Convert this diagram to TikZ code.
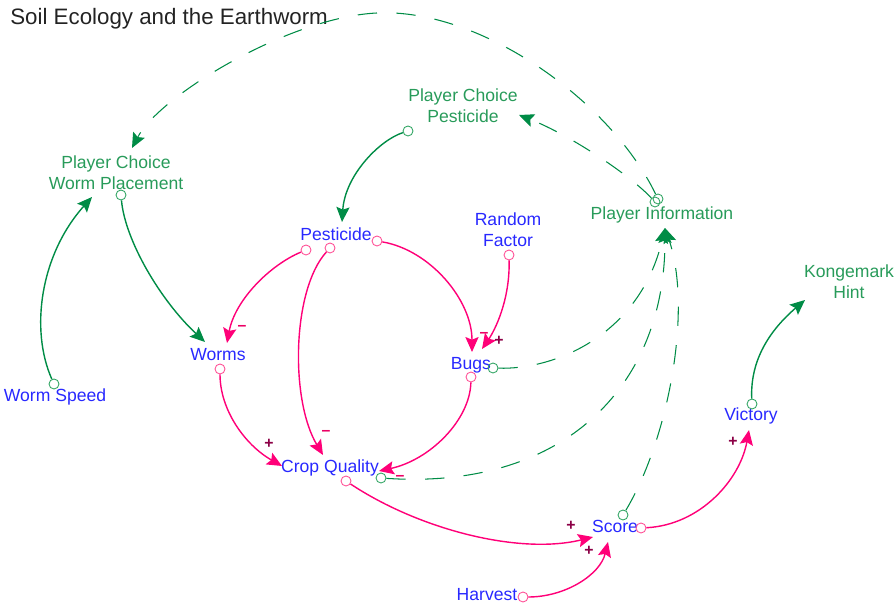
\documentclass[tikz,border=0pt]{standalone}
\usepackage{fontspec}
\setmainfont{Liberation Sans}
\usetikzlibrary{arrows.meta}

\definecolor{linkpink}{RGB}{255,0,120}
\definecolor{ringpink}{RGB}{255,80,150}
\definecolor{linkgreen}{RGB}{0,140,70}
\definecolor{ringgreen}{RGB}{50,165,100}
\definecolor{txtgreen}{RGB}{40,155,90}
\definecolor{txtblue}{RGB}{40,40,255}
\definecolor{plusmark}{RGB}{140,0,70}
\definecolor{minusmark}{RGB}{235,0,100}
\definecolor{titlegray}{RGB}{35,35,35}

\tikzset{
  lbl/.style={inner sep=0pt, font=\fontsize{10}{12}\selectfont, align=center},
  stock/.style={lbl, text=txtblue},
  choice/.style={lbl, text=txtgreen},
  ringp/.style={circle, draw=ringpink, line width=0.5pt, minimum size=0.2cm, inner sep=0pt},
  ringg/.style={circle, draw=ringgreen, line width=0.5pt, minimum size=0.2cm, inner sep=0pt},
  headtip/.style={-{Stealth[length=8.5pt,width=7.5pt,inset=1.5pt]}},
  plink/.style={headtip, draw=linkpink, line width=0.8pt},
  glink/.style={headtip, draw=linkgreen, line width=0.8pt},
  dlink/.style={headtip, draw=linkgreen, line width=0.6pt, dash pattern=on 11pt off 11pt},
  plus/.style={text=plusmark, inner sep=0pt, font=\bfseries\fontsize{9}{9}\selectfont},
  minus/.style={text=minusmark, inner sep=0pt, font=\bfseries\fontsize{9}{9}\selectfont},
}

\begin{document}
\begin{tikzpicture}[x=0.02cm, y=-0.02cm]
\useasboundingbox (0,0) rectangle (896,607);

% ---- title ----
\node[anchor=base west, inner sep=0pt, text=titlegray, font=\fontsize{12.7}{15}\selectfont] (title) at (10,25) {Soil Ecology and the Earthworm};

% ---- variables ----
\node[choice] (pcwp) at (116,173) {Player Choice\\Worm Placement};
\node[choice] (pcp) at (463,106) {Player Choice\\Pesticide};
\node[choice, anchor=base] (pinfo) at (662,220) {Player Information};
\node[choice] (khint) at (849,282) {Kongemark\\Hint};
\node[stock, anchor=base] (pest) at (336,241) {Pesticide};
\node[stock] (rfac) at (508,230) {Random\\Factor};
\node[stock, anchor=base] (worms) at (218,361) {Worms};
\node[stock, anchor=base] (bugs) at (471,370) {Bugs};
\node[stock, anchor=base] (wspeed) at (55,402) {Worm Speed};
\node[stock, anchor=base] (crop) at (330,473) {Crop Quality};
\node[stock, anchor=base] (score) at (615,533) {Score};
\node[stock, anchor=base] (victory) at (751,421) {Victory};
\node[stock, anchor=base] (harvest) at (487,601) {Harvest};

% ---- link origins ----
\node[ringg] (o-ws) at (54,384) {};
\node[ringg] (o-pcwp) at (121,195) {};
\node[ringg] (o-pcp) at (408,131) {};
\node[ringg] (o-vic) at (752,404) {};
\node[ringg] (o-bugs-g) at (493,368) {};
\node[ringg] (o-crop-g) at (381,478) {};
\node[ringg] (o-score-g) at (623,515) {};
\node[ringg] (o-pi-a) at (655,202) {};
\node[ringg] (o-pi-b) at (658,199) {};
\node[ringp] (o-pest-a) at (306,250) {};
\node[ringp] (o-pest-b) at (330,248) {};
\node[ringp] (o-pest-c) at (377,241) {};
\node[ringp] (o-rf) at (509,255) {};
\node[ringp] (o-worms) at (220,369) {};
\node[ringp] (o-bugs) at (471,377) {};
\node[ringp] (o-crop) at (346,481) {};
\node[ringp] (o-harv) at (523,597) {};
\node[ringp] (o-score) at (641,528) {};

% ---- link ends ----
\coordinate (in-pcwp) at (92,197);
\coordinate (in-pcwp-d) at (132,148);
\coordinate (in-worms-g) at (205,342);
\coordinate (in-worms-p) at (227,343);
\coordinate (in-pest) at (342,222);
\coordinate (in-pcp) at (519,115);
\coordinate (in-bugs-a) at (472,352);
\coordinate (in-bugs-b) at (482,349);
\coordinate (in-crop-a) at (323,455);
\coordinate (in-crop-b) at (282,466);
\coordinate (in-crop-c) at (379,471);
\coordinate (in-score-a) at (593,537);
\coordinate (in-score-b) at (608,542);
\coordinate (in-vic) at (749,430);
\coordinate (in-kh) at (805,300);
\coordinate (in-pi) at (665,228);
\coordinate (arc-top) at (377,13);

% ---- green solid links ----
\draw[glink] (o-ws) .. controls (30,330) and (40,255) .. (in-pcwp);
\draw[glink] (o-pcwp) .. controls (125,240) and (160,300) .. (in-worms-g);
\draw[glink] (o-pcp) .. controls (380,140) and (345,175) .. (in-pest);
\draw[glink] (o-vic) .. controls (750,360) and (770,330) .. (in-kh);

% ---- pink links ----
\draw[plink] (o-pest-a) .. controls (270,265) and (235,300) .. (in-worms-p);
\draw[plink] (o-pest-b) .. controls (292,290) and (290,400) .. (in-crop-a);
\draw[plink] (o-pest-c) .. controls (430,250) and (472,300) .. (in-bugs-a);
\draw[plink] (o-rf) .. controls (510,300) and (495,330) .. (in-bugs-b);
\draw[plink] (o-worms) .. controls (220,410) and (245,445) .. (in-crop-b);
\draw[plink] (o-bugs) .. controls (470,420) and (430,460) .. (in-crop-c);
\draw[plink] (o-crop) .. controls (420,530) and (520,555) .. (in-score-a);
\draw[plink] (o-harv) .. controls (565,597) and (600,575) .. (in-score-b);
\draw[plink] (o-score) .. controls (700,525) and (740,480) .. (in-vic);

% ---- information links ----
\draw[dlink] (o-bugs-g) .. controls (555,370) and (640,335) .. (in-pi);
\draw[dlink] (o-crop-g) .. controls (560,490) and (665,390) .. (in-pi);
\draw[dlink] (o-score-g) .. controls (668,440) and (693,310) .. (in-pi);
\draw[dlink] (o-pi-a) .. controls (630,175) and (570,135) .. (in-pcp);
\draw[dlink] (o-pi-b) .. controls (610,100) and (480,8) .. (arc-top)
  .. controls (290,17) and (160,95) .. (in-pcwp-d);

% ---- polarities ----
\node[minus] (m1) at (242,328) {–};
\node[minus] (m2) at (326,433) {–};
\node[minus] (m3) at (484,335) {–};
\node[minus] (m4) at (400,478) {–};
\node[plus] (p1) at (499,341) {+};
\node[plus] (p2) at (269,444) {+};
\node[plus] (p3) at (571,526) {+};
\node[plus] (p4) at (589,551) {+};
\node[plus] (p5) at (733,442) {+};
\end{tikzpicture}
\end{document}
